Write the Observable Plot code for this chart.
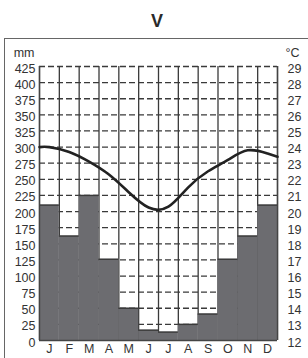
<!DOCTYPE html>
<html>
<head>
<meta charset="utf-8">
<script src="https://cdn.jsdelivr.net/npm/d3@7"></script>
<script src="https://cdn.jsdelivr.net/npm/@observablehq/plot@0.6"></script>
<style>
  html, body { margin: 0; padding: 0; background: #fff; }
  #wrap { position: relative; width: 308px; height: 358px; overflow: hidden; font-family: "Liberation Sans", Arial, sans-serif; }
  #title { position: absolute; left: 0; top: 10px; width: 314px; text-align: center; font-size: 18px; font-weight: bold; color: #2a2a2a; line-height: 22px; }
  #frame { position: absolute; left: 4px; top: 38px; width: 320px; height: 340px; border-left: 1.5px solid #666; border-top: 1.5px solid #666; }
  #chart { position: absolute; left: 0; top: 38px; }
</style>
</head>
<body>
<div id="wrap">
  <div id="title">V</div>
  <div id="frame"></div>
  <div id="chart"></div>
</div>
<script>
const months = ["J","F","M","A","M","J","J","A","S","O","N","D"];
const precip = [210, 162, 225, 126, 50, 16, 13, 25, 41, 126, 162, 210];
const temp = [24.0, 23.7, 23.1, 22.3, 21.2, 20.25, 20.3, 21.5, 22.5, 23.2, 23.8, 23.6];
const tempStart = 24.0;
const tempEnd = 23.4;
const mmTicks = d3.range(0, 426, 25);
const degTicks = d3.range(12, 30);

const rows = precip.map((p, i) => ({i, i1: i + 1, p}));
const tempRows = [{x: 0, t: tempStart}]
  .concat(temp.map((t, i) => ({x: i + 0.5, t})))
  .concat([{x: 12, t: tempEnd}]);

const grid = "#3a3a3a";
const fs = 12.5;
const chart = Plot.plot({
  width: 308,
  height: 320,
  marginTop: 28,
  marginBottom: 18,
  marginLeft: 39,
  marginRight: 31,
  x: {domain: [0, 12]},
  y: {domain: [0, 425]},
  style: {fontFamily: "'Liberation Sans', Arial, sans-serif", fontSize: "12.5px", color: "#333", background: "transparent"},
  marks: [
    Plot.frame({fill: "white", stroke: "none"}),
    Plot.ruleY(mmTicks.filter(d => d > 0), {stroke: grid, strokeWidth: 1.3, strokeDasharray: "6,3"}),
    Plot.ruleX(d3.range(0, 13), {y1: 0, y2: 425, stroke: grid, strokeWidth: 1.3}),
    Plot.rectY(rows, {x1: "i", x2: "i1", y1: 0, y2: "p", fill: "#6c6c70", inset: 0}),
    Plot.ruleY(rows, {y: "p", x1: "i", x2: "i1", stroke: grid, strokeWidth: 1.4}),
    Plot.ruleY([0], {stroke: "#444", strokeWidth: 1.5}),
    Plot.ruleX([0, 12], {y1: 0, y2: 425, stroke: "#444", strokeWidth: 1.4}),
    Plot.line(tempRows, {x: "x", y: d => (d.t - degTicks[0]) * 25, curve: "natural", stroke: "#222", strokeWidth: 2.6}),
    Plot.axisY(mmTicks, {anchor: "left", tickSize: 0, tickPadding: 4, dy: 2, fontSize: fs, label: null}),
    Plot.axisY(mmTicks, {anchor: "right", tickSize: 0, tickPadding: 10, dy: 2, fontSize: fs, tickFormat: d => degTicks[0] + d / 25, label: null}),
    Plot.axisX(d3.range(12).map(i => i + 0.5), {tickSize: 0, tickPadding: 4, fontSize: fs, tickFormat: d => months[Math.floor(d)], label: null}),
    Plot.text(["mm"], {text: d => d, frameAnchor: "top-left", dx: -5, dy: -18, textAnchor: "end", fontSize: fs, fill: "#333"}),
    Plot.text(["°C"], {text: d => d, frameAnchor: "top-right", dx: 8, dy: -18, textAnchor: "start", fontSize: fs, fill: "#333"})
  ]
});
document.getElementById("chart").appendChild(chart);
</script>
</body>
</html>
